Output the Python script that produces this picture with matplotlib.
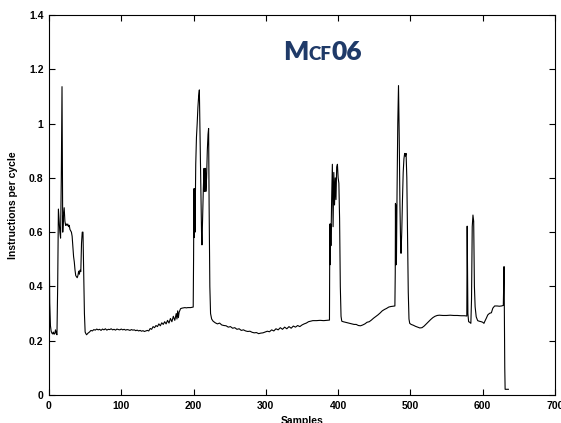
import matplotlib
matplotlib.use("Agg")
import matplotlib.pyplot as plt

# IPC trace of mcf06 (sample index, instructions per cycle)
samples = [
    0, 1, 2, 3, 4, 5, 6, 7, 8, 9, 10, 11, 12, 13, 14, 15, 16, 17, 18, 19,
    20, 21, 22, 23, 24, 25, 26, 27, 28, 29, 30, 31, 32, 33, 34, 35, 36, 37, 38, 39,
    40, 41, 42, 43, 44, 45, 46, 47, 48, 49, 50, 51, 52,
    54, 56, 58, 60, 62, 64, 66, 68, 70, 72, 74, 76, 78, 80, 82, 84, 86, 88, 90, 92,
    94, 96, 98, 100, 102, 104, 106, 108, 110, 112, 114, 116, 118, 120, 122, 124, 126,
    128, 130, 132, 134, 136, 138, 140, 142, 144, 146, 148, 150, 152, 154, 156, 158,
    160, 162, 164, 166, 168, 170, 172, 174, 176, 177, 178, 179, 180, 181, 182, 184,
    186, 188, 190, 192, 194, 196, 198, 199.5,
    200, 200.5, 201, 201.5, 202, 203, 204, 205, 206, 207, 208, 209, 210, 211, 211.6,
    212.5, 213.5, 214.5, 215, 215.5, 216, 216.5, 217, 218, 219, 220, 220.8, 221.5,
    222.5, 223.5, 225, 227, 229,
    230, 233, 236, 239, 242, 245, 248, 251, 254, 257, 260, 263, 266, 269, 272, 275,
    278, 281, 284, 287, 290, 293, 296, 299, 302, 305, 308, 311, 314, 317, 320, 323,
    326, 329, 332, 335, 338, 341, 344, 347, 350, 353, 356, 359, 362, 365, 370, 375,
    380, 385, 388,
    388.5, 389, 389.5, 390, 391, 392, 393, 394, 395, 396, 397, 398, 399, 400, 401,
    402, 403, 404, 405,
    407, 410, 413, 416, 419, 422, 425, 428, 431, 434, 437, 440, 443, 446, 449, 452,
    455, 458, 461, 464, 467, 470, 473, 476, 478.5,
    479, 479.3, 479.7, 480.2, 480.6, 481.5, 482.5, 483.5, 484.5, 485.5, 486.5, 487,
    488, 489, 490, 491, 492, 493, 494, 495, 496, 497, 498, 499,
    501, 504, 507, 510, 513, 516, 519, 522, 525, 528, 531, 534, 537, 540, 545, 550,
    555, 560, 565, 570, 575, 578,
    578.5, 579.5, 580.5, 582, 583.6, 584.5, 585.5, 586.5, 587.5, 588.5, 589.5, 591,
    593, 595, 598, 600, 601.7, 603, 605, 607, 609.5, 612, 614, 616.5, 620, 623, 626,
    628.5, 629.5, 630.5, 631, 635.5,
]
ipc = [
    0.655, 0.34, 0.255, 0.235, 0.228, 0.225, 0.232, 0.224, 0.226, 0.24, 0.228, 0.222,
    0.40, 0.685, 0.64, 0.60, 0.578, 0.80, 1.136, 0.60,
    0.66, 0.69, 0.64, 0.625, 0.63, 0.625, 0.63, 0.62, 0.625, 0.61, 0.605, 0.60, 0.585,
    0.55, 0.51, 0.49, 0.46, 0.44, 0.436, 0.432,
    0.44, 0.456, 0.445, 0.46, 0.455, 0.56, 0.60, 0.60, 0.45, 0.30, 0.232, 0.226, 0.222,
    0.228, 0.232, 0.238, 0.236, 0.241, 0.239, 0.243, 0.240, 0.242, 0.238, 0.243, 0.240,
    0.244, 0.239, 0.242, 0.241, 0.244, 0.240, 0.242, 0.239,
    0.243, 0.241, 0.240, 0.243, 0.240, 0.242, 0.239, 0.241, 0.240, 0.238, 0.241, 0.239,
    0.240, 0.237, 0.239, 0.236, 0.238,
    0.235, 0.237, 0.234, 0.236, 0.238, 0.236, 0.245, 0.242, 0.252, 0.248, 0.256, 0.252,
    0.262, 0.255, 0.266, 0.26,
    0.27, 0.262, 0.275, 0.265, 0.282, 0.27, 0.29, 0.275, 0.30, 0.28, 0.31, 0.285, 0.305,
    0.312, 0.318, 0.32,
    0.321, 0.322, 0.321, 0.322, 0.322, 0.322, 0.323, 0.324,
    0.50, 0.76, 0.58, 0.76, 0.60, 0.85, 0.95, 1.0, 1.06, 1.10, 1.124, 0.95, 0.75, 0.60,
    0.553,
    0.65, 0.76, 0.835, 0.75, 0.83, 0.76, 0.835, 0.75, 0.80, 0.90, 0.96, 0.982, 0.70,
    0.40, 0.30, 0.28, 0.272, 0.268,
    0.266, 0.262, 0.265, 0.258, 0.256, 0.255, 0.25, 0.252, 0.246, 0.248, 0.242, 0.244,
    0.238, 0.24, 0.236, 0.234,
    0.235, 0.231, 0.229, 0.23, 0.226, 0.228, 0.229, 0.232, 0.235, 0.233, 0.24, 0.236,
    0.244, 0.24, 0.248, 0.242,
    0.25, 0.244, 0.252, 0.246, 0.254, 0.25, 0.256, 0.252, 0.258, 0.262, 0.265, 0.27,
    0.272, 0.274, 0.274, 0.275,
    0.274, 0.275, 0.276,
    0.63, 0.48, 0.63, 0.55, 0.72, 0.85, 0.62, 0.82, 0.70, 0.80, 0.72, 0.84, 0.85, 0.80,
    0.78, 0.65, 0.40, 0.29, 0.272,
    0.27, 0.268, 0.266, 0.264, 0.262, 0.26, 0.26, 0.256, 0.255, 0.258, 0.262, 0.268,
    0.27, 0.276, 0.283, 0.289,
    0.295, 0.302, 0.31, 0.315, 0.319, 0.324, 0.326, 0.327, 0.328,
    0.45, 0.706, 0.48, 0.70, 0.48, 0.75, 1.0, 1.14, 0.95, 0.70, 0.54, 0.522,
    0.60, 0.72, 0.82, 0.87, 0.89, 0.88, 0.89, 0.80, 0.60, 0.38, 0.28, 0.264,
    0.26, 0.257, 0.253, 0.25, 0.247, 0.248, 0.254, 0.262, 0.27, 0.278, 0.285, 0.29,
    0.293, 0.294, 0.293, 0.293,
    0.294, 0.293, 0.293, 0.292, 0.292, 0.291,
    0.622, 0.30, 0.27, 0.268, 0.264, 0.35, 0.62, 0.663, 0.64, 0.40, 0.325, 0.288,
    0.274, 0.272, 0.27, 0.268, 0.264, 0.272, 0.283, 0.295, 0.301, 0.303, 0.32, 0.328,
    0.328, 0.327, 0.328,
    0.33, 0.473, 0.10, 0.021, 0.021,
]

x_ticks = [0, 100, 200, 300, 400, 500, 600, 700]
y_ticks = [0, 0.2, 0.4, 0.6, 0.8, 1.0, 1.2, 1.4]
y_tick_labels = ["0", "0.2", "0.4", "0.6", "0.8", "1", "1.2", "1.4"]

W, H = 561, 423
fig = plt.figure(figsize=(W / 100, H / 100), dpi=100)
ax = fig.add_axes([49 / W, 1 - 395 / H, (555 - 49) / W, (395 - 15) / H])

ax.plot(samples, ipc, color="black", lw=0.8)

ax.set_xlim(0, 700)
ax.set_ylim(0, 1.4)
ax.set_xticks(x_ticks)
ax.set_yticks(y_ticks)
ax.set_yticklabels(y_tick_labels)

lab_font = dict(family="Liberation Sans", weight="bold", size=7.5)
ax.tick_params(direction="in", length=4, width=0.8, top=True, right=True, pad=4)
for t in ax.get_xticklabels() + ax.get_yticklabels():
    t.set_fontproperties(matplotlib.font_manager.FontProperties(**lab_font))
for s in ax.spines.values():
    s.set_linewidth(0.8)

ax.set_xlabel("Samples", fontdict=lab_font, labelpad=4)
ax.set_ylabel("Instructions per cycle", fontdict=lab_font, labelpad=8)

# small-caps title, built from pieces
title_color = "#1f3a68"
pieces = [("M", 19), ("CF", 13.5), ("06", 19)]
fig.canvas.draw()
renderer = fig.canvas.get_renderer()
texts = []
total = 0
for s, size in pieces:
    t = fig.text(0, 0, s, fontsize=size, family="Lato", weight="heavy",
                 color=title_color, va="baseline", ha="left")
    w = t.get_window_extent(renderer).width
    texts.append((t, w))
    total += w
x = 362 - total
for t, w in texts:
    t.set_position((x / W, 1 - 60 / H))
    x += w

fig.savefig("out.png", dpi=100)
